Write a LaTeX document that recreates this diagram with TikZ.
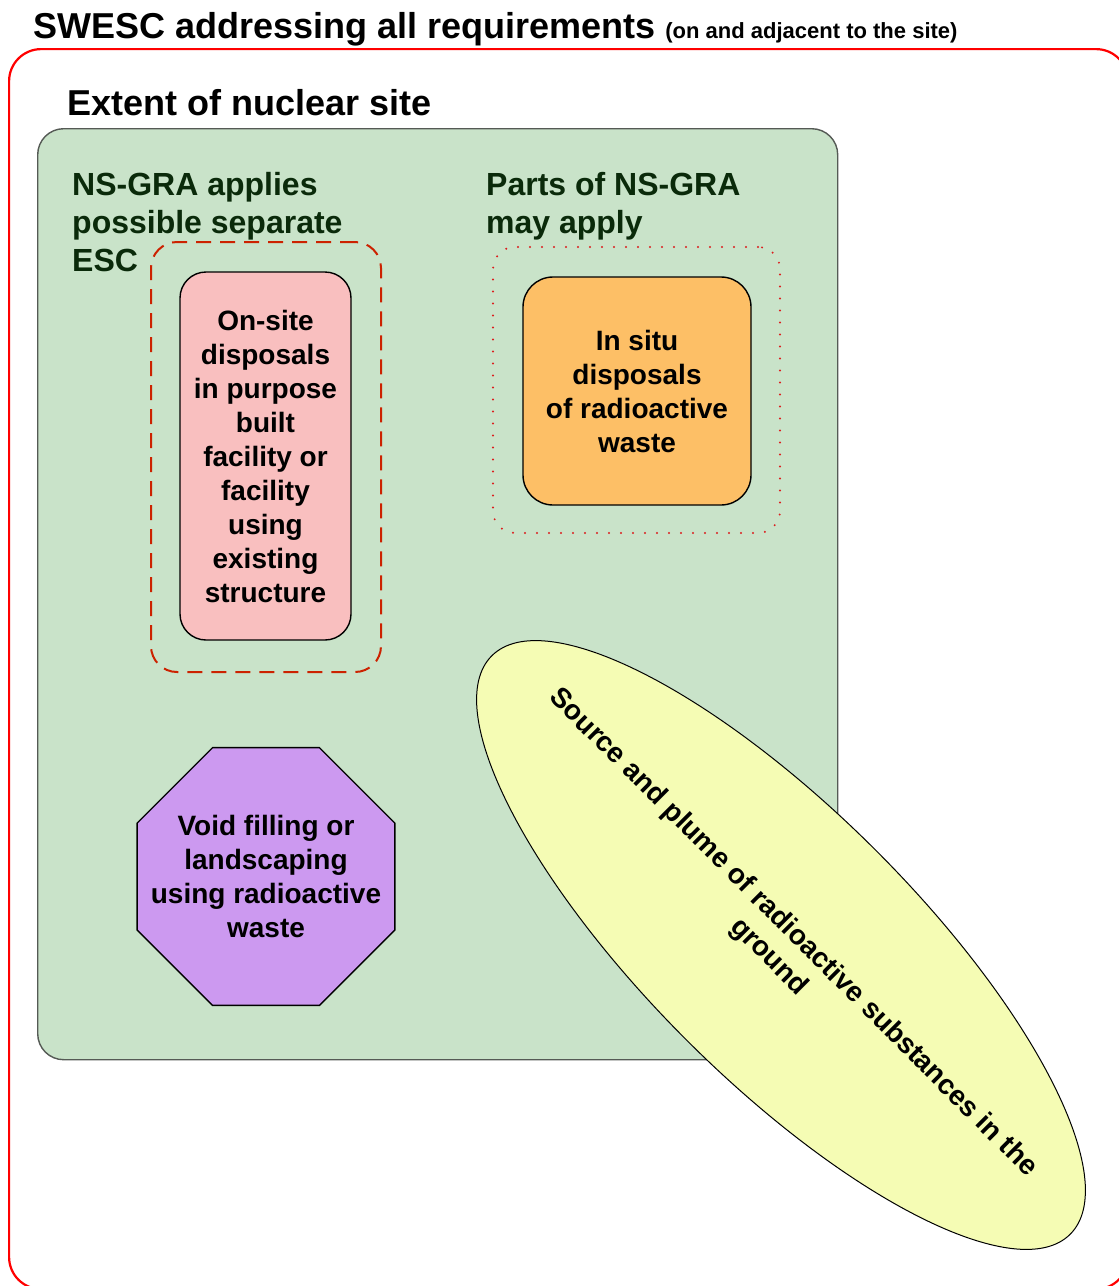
\documentclass[tikz,border=0pt]{standalone}
\usepackage{fontspec}
\setmainfont{Liberation Sans}
\usetikzlibrary{shapes.geometric}
\definecolor{sitegreen}{RGB}{201,227,201}
\definecolor{siteline}{RGB}{85,90,85}
\definecolor{darkgreentext}{RGB}{10,42,10}
\definecolor{pinkfill}{RGB}{249,191,191}
\definecolor{orangefill}{RGB}{253,191,102}
\definecolor{purplefill}{RGB}{204,153,240}
\definecolor{yellowfill}{RGB}{245,252,180}
\definecolor{dashred}{RGB}{204,34,0}
\definecolor{dotred}{RGB}{220,30,30}
\begin{document}
\begin{tikzpicture}[x=1pt,y=-1pt,
  plaintext/.style={inner sep=0pt, font=\bfseries\fontsize{28}{34}\selectfont, align=center},
  greenlabel/.style={inner sep=0pt, anchor=base west, align=left, text=darkgreentext, font=\bfseries\fontsize{32}{38}\selectfont},
  boxshape/.style={draw=black, line width=1.4pt, inner sep=0pt, align=center, font=\bfseries\fontsize{28}{34}\selectfont}
]
\useasboundingbox (0,0) rectangle (1119,1286);
\begin{scope}
\clip (0,0) rectangle (1119,1286);
\node[draw=red, line width=2.2pt, rounded corners=32pt, minimum width=1119pt, minimum height=1240pt, inner sep=0pt, anchor=north west] (swesc) at (8,48) {};
\end{scope}
\node[inner sep=0pt, anchor=base west, font=\bfseries\fontsize{36}{40}\selectfont] (title) at (33,38) {SWESC addressing all requirements {\fontsize{22}{26}\selectfont (on and adjacent to the site)}};
\node[inner sep=0pt, anchor=base west, font=\bfseries\fontsize{36}{40}\selectfont] (extent) at (67,115) {Extent of nuclear site};
\node[draw=siteline, line width=1.4pt, fill=sitegreen, rounded corners=26pt, minimum width=800pt, minimum height=931pt, inner sep=0pt, anchor=north west] (site) at (37,128) {};
\node[greenlabel] (nsgra) at (72,271) {NS-GRA applies\\possible separate\\ESC};
\node[greenlabel] (parts) at (486,233) {Parts of NS-GRA\\may apply};
\node[draw=dashred, line width=2pt, dash pattern=on 15pt off 9pt, rounded corners=26pt, minimum width=230pt, minimum height=430pt, inner sep=0pt] (escbox) at (266,457) {};
\node[boxshape, fill=pinkfill, rounded corners=26pt, minimum width=171pt, minimum height=368pt] (onsite) at (265.5,456) {On-site\\disposals\\in purpose\\built\\facility or\\facility\\using\\existing\\structure};
\node[draw=dotred, line width=2.2pt, line cap=round, dash pattern=on 0pt off 12pt, rounded corners=22pt, minimum width=287pt, minimum height=286pt, inner sep=0pt] (partsbox) at (636.5,390) {};
\node[boxshape, fill=orangefill, rounded corners=30pt, minimum width=228pt, minimum height=228pt] (insitu) at (637,391) {In situ\\disposals\\of radioactive\\waste};
\node[boxshape, fill=purplefill, regular polygon, regular polygon sides=8, minimum size=279pt] (void) at (266,876.5) {};
\node[plaintext] (voidtext) at (void.center) {Void filling or\\landscaping\\using radioactive\\waste};
\node[draw=black, line width=1pt, fill=yellowfill, ellipse, minimum width=818pt, minimum height=268pt, inner sep=0pt, rotate=-45] (plume) at (781,945) {};
\node[plaintext, rotate=-45] (plumetext) at (plume.center) {Source and plume of radioactive substances in the\\ground};
\end{tikzpicture}
\end{document}
